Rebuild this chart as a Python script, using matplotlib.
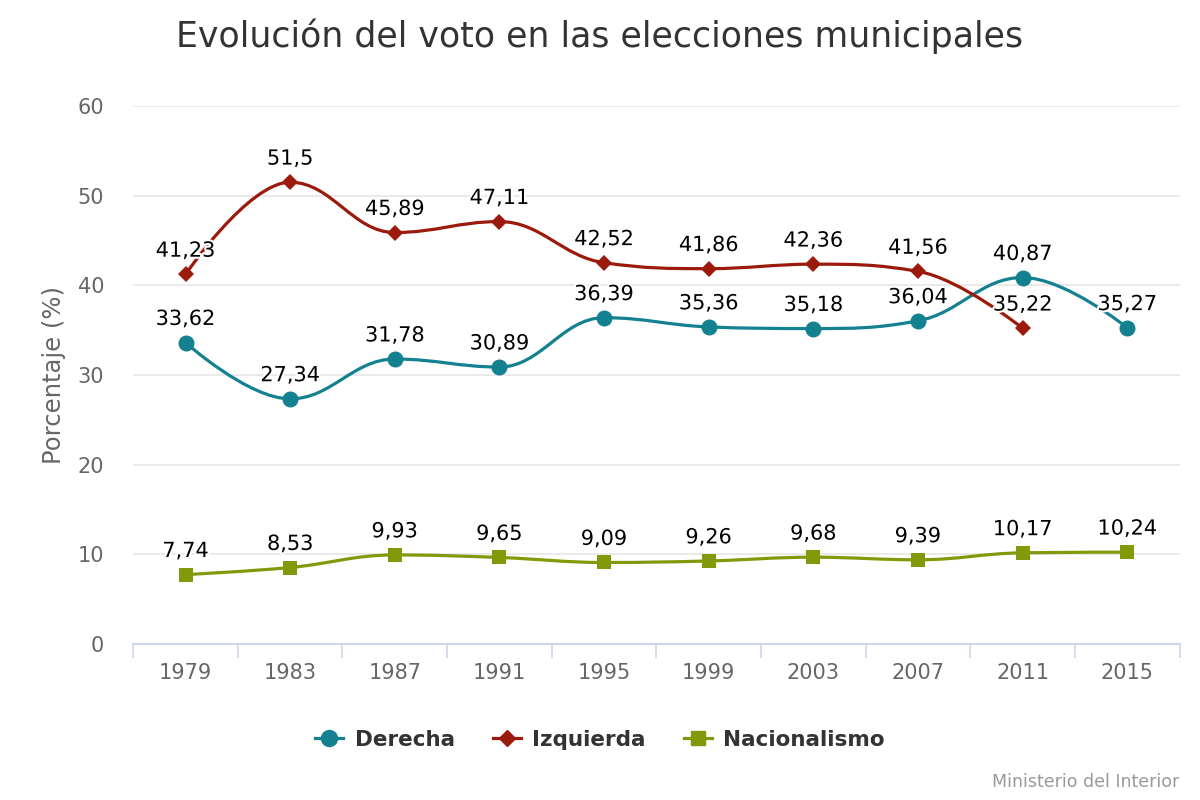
#!/usr/bin/env python3
"""Evolución del voto en las elecciones municipales (Highcharts-style spline chart)."""

import matplotlib

matplotlib.use("Agg")
import matplotlib.pyplot as plt
import numpy as np
from matplotlib.path import Path
from matplotlib.patches import PathPatch
import matplotlib.patheffects as pe

years = ["1979", "1983", "1987", "1991", "1995", "1999", "2003", "2007", "2011", "2015"]
derecha = [33.62, 27.34, 31.78, 30.89, 36.39, 35.36, 35.18, 36.04, 40.87, 35.27]
izquierda = [41.23, 51.5, 45.89, 47.11, 42.52, 41.86, 42.36, 41.56, 35.22]
nacionalismo = [7.74, 8.53, 9.93, 9.65, 9.09, 9.26, 9.68, 9.39, 10.17, 10.24]

COL_DER = "#13818f"
COL_IZQ = "#9b1a0c"
COL_NAC = "#84990a"


def spline_path(xs, ys, smoothing=1.5):
    """Bezier path through the points, same control-point rule as Highcharts' spline."""
    denom = smoothing + 1
    n = len(xs)
    left = [(x, y) for x, y in zip(xs, ys)]
    right = [(x, y) for x, y in zip(xs, ys)]
    for i in range(1, n - 1):
        px, py = xs[i], ys[i]
        lx, ly = xs[i - 1], ys[i - 1]
        nx, ny = xs[i + 1], ys[i + 1]
        lcx = (smoothing * px + lx) / denom
        lcy = (smoothing * py + ly) / denom
        rcx = (smoothing * px + nx) / denom
        rcy = (smoothing * py + ny) / denom
        if rcx != lcx:
            corr = (rcy - lcy) * (rcx - px) / (rcx - lcx) + py - rcy
            lcy += corr
            rcy += corr
        if lcy > max(ly, py):
            lcy = max(ly, py)
            rcy = 2 * py - lcy
        elif lcy < min(ly, py):
            lcy = min(ly, py)
            rcy = 2 * py - lcy
        if rcy > max(py, ny):
            rcy = max(py, ny)
            lcy = 2 * py - rcy
        elif rcy < min(py, ny):
            rcy = min(py, ny)
            lcy = 2 * py - rcy
        left[i] = (lcx, lcy)
        right[i] = (rcx, rcy)
    verts = [(xs[0], ys[0])]
    codes = [Path.MOVETO]
    for i in range(1, n):
        verts += [right[i - 1], left[i], (xs[i], ys[i])]
        codes += [Path.CURVE4] * 3
    return Path(verts, codes)


plt.rcParams["font.family"] = ["DejaVu Sans"]

fig = plt.figure(figsize=(12, 8), dpi=100)
ax = fig.add_axes([0.111, 0.195, 0.872, 0.6725])

series = [
    ("Derecha", derecha, COL_DER, "o", 11.5),
    ("Izquierda", izquierda, COL_IZQ, "D", 8),
    ("Nacionalismo", nacionalismo, COL_NAC, "s", 10.5),
]

halo = [pe.withStroke(linewidth=3, foreground="white")]
for name, vals, col, mk, ms in series:
    x = np.arange(len(vals))
    ax.add_patch(PathPatch(spline_path(list(x), list(vals)), facecolor="none",
                           edgecolor=col, lw=2.3, zorder=3, capstyle="round"))
    ax.plot(x, vals, linestyle="none", marker=mk, color=col, markersize=ms,
            markeredgewidth=0, zorder=4)
    ax.plot([], [], color=col, lw=2.3, marker=mk, markersize=ms, label=name)
    for xi, v in zip(x, vals):
        ax.annotate(f"{v:g}".replace(".", ","), (xi, v), xytext=(0, 17),
                    textcoords="offset points", ha="center", va="center",
                    fontsize=15, color="black", zorder=5, path_effects=halo)

ax.set_xlim(-0.5, len(years) - 0.5)
ax.set_ylim(0, 60)
ax.set_yticks(range(0, 61, 10))
ax.set_xticks(range(len(years)))
ax.set_xticklabels(years)
ax.set_xticks(np.arange(-0.5, len(years), 1), minor=True)
ax.tick_params(axis="x", which="major", length=0, pad=14, labelsize=15, labelcolor="#666666")
ax.tick_params(axis="x", which="minor", length=10, width=1.2, color="#ccd6eb")
ax.tick_params(axis="y", length=0, pad=21, labelsize=15, labelcolor="#666666")
ax.grid(axis="y", color="#e6e6e6", lw=1.2, zorder=0)
for s in ["top", "right", "left"]:
    ax.spines[s].set_visible(False)
ax.spines["bottom"].set_color("#ccd6eb")
ax.spines["bottom"].set_linewidth(1.5)
ax.spines["bottom"].set_zorder(2)
ax.set_ylabel("Porcentaje (%)", fontsize=17.5, color="#666666", labelpad=8)

fig.text(0.5, 0.955, "Evolución del voto en las elecciones municipales", ha="center",
         va="center", fontsize=25, color="#333333")

leg = fig.legend(loc="center", bbox_to_anchor=(0.5, 0.075), ncol=3, frameon=False,
                 prop={"size": 15.5, "weight": "bold"}, handlelength=1.3, columnspacing=1.75,
                 handletextpad=0.55)
for t in leg.get_texts():
    t.set_color("#333333")

fig.text(0.983, 0.022, "Ministerio del Interior", ha="right", va="center",
         fontsize=12.5, color="#999999")

fig.savefig("out.png", dpi=100)
